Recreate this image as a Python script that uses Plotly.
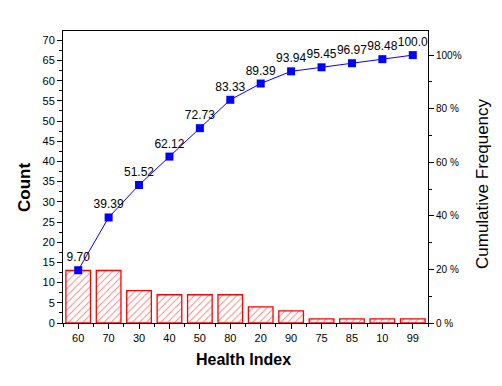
import plotly.graph_objects as go

categories = ["60", "70", "30", "40", "50", "80", "20", "90", "75", "85", "10", "99"]
counts = [13, 13, 8, 7, 7, 7, 4, 3, 1, 1, 1, 1]
cum_pct = [19.70, 39.39, 51.52, 62.12, 72.73, 83.33, 89.39, 93.94, 95.45, 96.97, 98.48, 100.0]
cum_labels = ["9.70", "39.39", "51.52", "62.12", "72.73", "83.33", "89.39", "93.94", "95.45", "96.97", "98.48", "100.0"]
pct_ticks = [0, 20, 40, 60, 80, 100]
pct_ticktext = ["0 %", "20 %", "40 %", "60 %", "80 %", "100%"]

xs = list(range(len(categories)))
font = "Liberation Sans, Arial, sans-serif"

fig = go.Figure()
fig.add_trace(go.Bar(
    x=xs, y=counts, width=0.81,
    marker=dict(color="white", line=dict(color="red", width=1.3),
                pattern=dict(shape="/", fgcolor="red", bgcolor="white", size=5, solidity=0.18)),
    yaxis="y", showlegend=False,
))
fig.add_trace(go.Scatter(
    x=xs, y=cum_pct, mode="lines+markers+text",
    line=dict(color="blue", width=1),
    marker=dict(symbol="square", size=8, color="blue"),
    text=cum_labels, textposition="top center",
    textfont=dict(family=font, size=12, color="black"),
    yaxis="y2", showlegend=False, cliponaxis=False,
))

fig.update_layout(
    width=502, height=386,
    margin=dict(l=63, r=74, t=31, b=63, autoexpand=False),
    paper_bgcolor="white", plot_bgcolor="white",
    font=dict(family=font, size=11, color="black"),
    xaxis=dict(
        range=[-0.5, 11.5], tickvals=xs, ticktext=categories,
        showline=True, linecolor="black", linewidth=1, mirror=True,
        ticks="outside", ticklen=5, tickcolor="black",
        minor=dict(tickvals=[i + 0.5 for i in range(-1, 12)], ticks="outside", ticklen=3, tickcolor="black"),
        showgrid=False, zeroline=False,
        tickfont=dict(family=font, size=11),
    ),
    yaxis=dict(
        range=[0, 72.3], tickvals=list(range(0, 71, 5)),
        showline=True, linecolor="black", linewidth=1,
        ticks="outside", ticklen=5, tickcolor="black",
        minor=dict(dtick=2.5, ticks="outside", ticklen=3, tickcolor="black"),
        showgrid=False, zeroline=False,
        tickfont=dict(family=font, size=11),
    ),
    yaxis2=dict(
        range=[0, 109], overlaying="y", side="right",
        tickvals=pct_ticks, ticktext=pct_ticktext,
        showline=True, linecolor="black", linewidth=1,
        ticks="outside", ticklen=5, tickcolor="black",
        minor=dict(tickvals=[10, 30, 50, 70, 90], ticks="outside", ticklen=3, tickcolor="black"),
        showgrid=False, zeroline=False,
        tickfont=dict(family=font, size=10),
    ),
    annotations=[
        dict(text="<b>Health Index</b>", xref="paper", yref="paper", x=0.5, y=0,
             yshift=-36, xshift=-2, showarrow=False, xanchor="center", yanchor="middle",
             font=dict(family=font, size=16)),
        dict(text="<b>Count</b>", xref="paper", yref="paper", x=0, y=0.5,
             xshift=-39, yshift=-11, textangle=-90, showarrow=False, xanchor="center", yanchor="middle",
             font=dict(family=font, size=17)),
        dict(text="Cumulative Frequency", xref="paper", yref="paper", x=1, y=0.5,
             xshift=54, yshift=-7, textangle=-90, showarrow=False, xanchor="center", yanchor="middle",
             font=dict(family=font, size=17)),
    ],
)

fig.write_html("out.html", config={"displayModeBar": False},
               post_script="document.body.style.margin='0';")
